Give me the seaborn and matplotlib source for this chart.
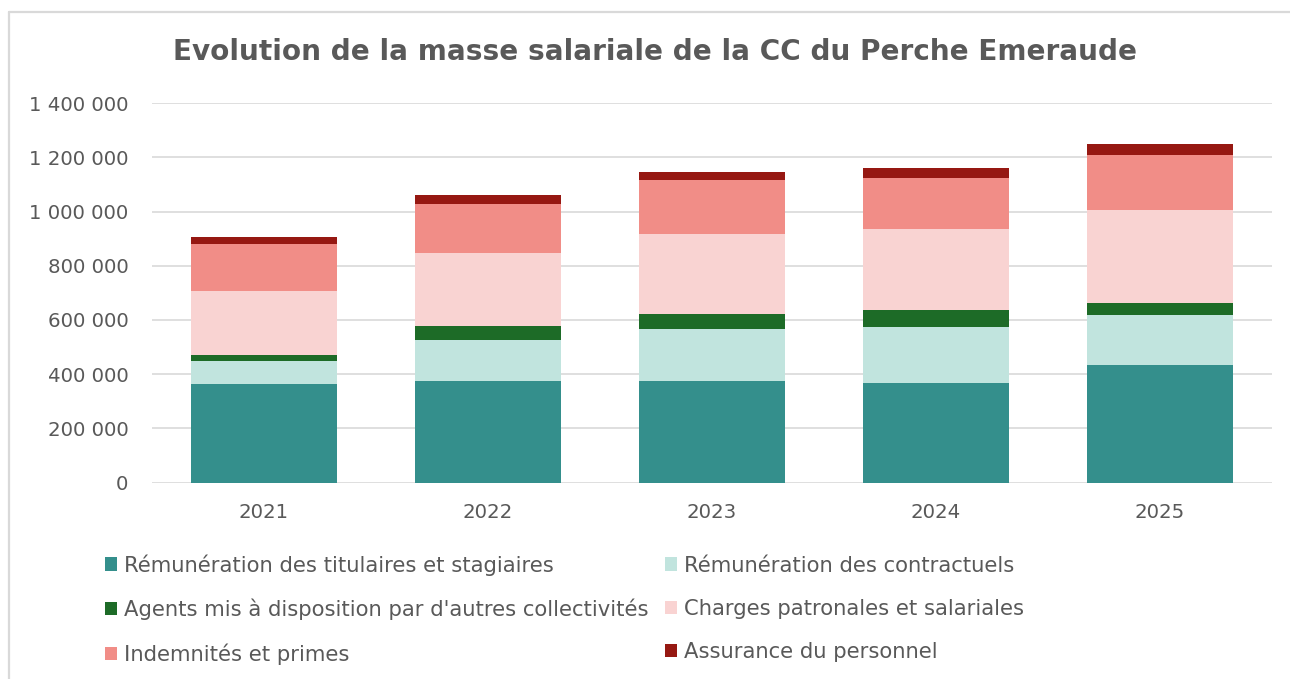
import pandas as pd
import numpy as np
import matplotlib
matplotlib.use("Agg")
import matplotlib.pyplot as plt
import seaborn as sns
from matplotlib.lines import Line2D
from matplotlib.patches import Patch

# ============================================================
# DATA
# ============================================================
years = ['2021', '2022', '2023', '2024', '2025']
titulaires = [362000, 375000, 375000, 366000, 435000]
contractuels = [85000, 151000, 191000, 209000, 183000]
agents = [23000, 53000, 56000, 61000, 43000]
charges = [236000, 269000, 296000, 300000, 344000]
indemnites = [173000, 179000, 200000, 187000, 205000]
assurance = [26000, 34000, 29000, 39000, 38000]

series_names = [
    "Rémunération des titulaires et stagiaires",
    "Rémunération des contractuels",
    "Agents mis à disposition par d'autres collectivités",
    "Charges patronales et salariales",
    "Indemnités et primes",
    "Assurance du personnel",
]
colors = ['#348F8C', '#C1E4DE', '#1D6B27', '#F9D3D2', '#F18D87', '#961812']

df = pd.DataFrame({
    'annee': years,
    series_names[0]: titulaires,
    series_names[1]: contractuels,
    series_names[2]: agents,
    series_names[3]: charges,
    series_names[4]: indemnites,
    series_names[5]: assurance,
})
cum = df[series_names].cumsum(axis=1)
cum['annee'] = df['annee']

# ============================================================
# PLOT
# ============================================================
sns.set_theme(style="white")
plt.rcParams['font.family'] = ['DejaVu Sans']
grey = '#595959'

fig = plt.figure(figsize=(12.9, 6.79), dpi=100)
ax = fig.add_axes([152 / 1290, 1 - 482.5 / 679, 1120 / 1290, 379.2 / 679])

# stacked bars: draw cumulative totals from the top segment down
for name, col in reversed(list(zip(series_names, colors))):
    sns.barplot(data=cum, x='annee', y=name, color=col, width=0.65,
                saturation=1, errorbar=None, linewidth=0, ax=ax, zorder=3)

ax.set_ylim(0, 1400000)
ax.set_xlim(-0.5, 4.5)
ax.set_yticks(np.arange(0, 1400001, 200000))
ax.set_yticklabels([f"{int(v):,}".replace(",", " ") for v in ax.get_yticks()])
ax.yaxis.grid(True, color='#D9D9D9', linewidth=1.2, zorder=0)
ax.set_axisbelow(True)
for s in ax.spines.values():
    s.set_visible(False)
ax.tick_params(axis='both', length=0, labelsize=14.2, labelcolor=grey)
ax.tick_params(axis='y', pad=17)
ax.tick_params(axis='x', pad=15)
ax.set_xlabel("")
ax.set_ylabel("")

fig.suptitle("Evolution de la masse salariale de la CC du Perche Emeraude",
             x=655 / 1290, y=1 - 52 / 679, va='center', fontsize=20.1,
             fontweight='bold', color=grey)

# legend, filled row by row like the original
handles = [Patch(facecolor=c, edgecolor='none') for c in colors]
order = [0, 2, 4, 1, 3, 5]
fig.legend([handles[i] for i in order], [series_names[i] for i in order],
           ncol=2, loc='upper left', bbox_to_anchor=(85.5 / 1290, 1 - 535 / 679),
           frameon=False, fontsize=15.2, labelcolor=grey,
           handlelength=0.58, handleheight=0.58, handletextpad=0.33,
           columnspacing=0.8, labelspacing=1.1)

# chart frame (left and top edges visible)
fig.add_artist(Line2D([9 / 1290, 9 / 1290], [0, 1 - 12 / 679],
                      transform=fig.transFigure, color='#D9D9D9', linewidth=1.6))
fig.add_artist(Line2D([9 / 1290, 1], [1 - 12 / 679, 1 - 12 / 679],
                      transform=fig.transFigure, color='#D9D9D9', linewidth=1.6))

fig.savefig("out.png", dpi=100)
